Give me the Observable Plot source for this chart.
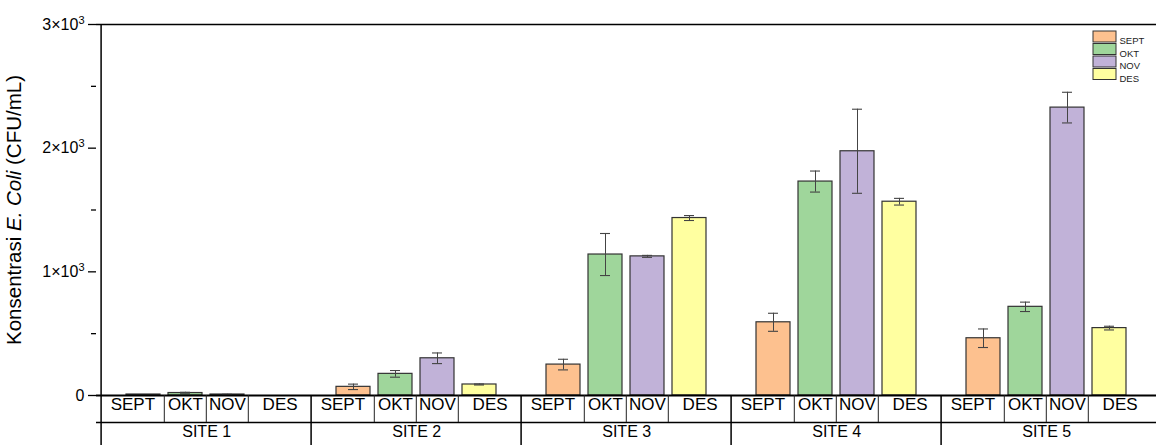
<!DOCTYPE html>
<html>
<head>
<meta charset="utf-8">
<script src="https://cdn.jsdelivr.net/npm/d3@7"></script>
<script src="https://cdn.jsdelivr.net/npm/@observablehq/plot@0.6"></script>
<style>
  html, body { margin: 0; padding: 0; background: #fff; }
  #chart svg { display: block; }
</style>
</head>
<body>
<div id="chart"></div>
<script>
// ---- data ----
const sites = ["SITE 1", "SITE 2", "SITE 3", "SITE 4", "SITE 5"];
const months = ["SEPT", "OKT", "NOV", "DES"];
const monthColors = ["#fdc18f", "#9fd69b", "#c1b2d8", "#ffffa0"];

const septValues = [8, 70, 250, 592, 463];
const septErrors = [0, 22, 43, 73, 75];
const oktValues = [20, 175, 1140, 1730, 717];
const oktErrors = [6, 27, 170, 85, 38];
const novValues = [8, 301, 1125, 1975, 2328];
const novErrors = [2, 43, 8, 340, 124];
const desValues = [0, 89, 1435, 1567, 545];
const desErrors = [0, 4, 20, 27, 15];

const yMajorTicks = [0, 1000, 2000, 3000];
const yMajorLabels = ["0", "1×10³", "2×10³", "3×10³"];
const yMinorTicks = [500, 1500, 2500];
const yLabel = "Konsentrasi E. Coli (CFU/mL)";

// ---- table for Plot ----
const valuesByMonth = [septValues, oktValues, novValues, desValues];
const errorsByMonth = [septErrors, oktErrors, novErrors, desErrors];
const rows = [];
sites.forEach((site, si) => {
  months.forEach((month, mi) => {
    rows.push({
      site, month,
      key: `${site}|${month}`,
      value: valuesByMonth[mi][si],
      err: errorsByMonth[mi][si]
    });
  });
});
// x domain: the four months of each site, with an empty slot between sites
const xDomain = [];
sites.forEach((site, si) => {
  months.forEach(m => xDomain.push(`${site}|${m}`));
  if (si < sites.length - 1) xDomain.push(`${site}|gap`);
});

// ---- layout ----
const W = 1156, H = 445;
const mL = 96, mR = 0, mT = 24, mB = 50;
const padInner = 0.19;
const padOuter = 0.5 + padInner / 2;
const step = (W - mL - mR) / (xDomain.length - padInner + 2 * padOuter);
const plotH = H - mT - mB;
const row1 = 27;   // height of month row
const font = "'Liberation Sans', Arial, sans-serif";

const errRows = rows.filter(d => d.err > 0);
const monthDx = {SEPT: -step / 4, OKT: 0, NOV: 0, DES: step / 4};

const legendMarks = [];
months.forEach((m, i) => {
  legendMarks.push(Plot.rect([m], {
    fill: d => d, stroke: "#333", strokeWidth: 1,
    insetLeft: 997, insetRight: 40,
    insetTop: 7 + 12.5 * i, insetBottom: plotH - (7 + 12.5 * i) - 11
  }));
  legendMarks.push(Plot.text([m], {
    text: d => d, frameAnchor: "top-left", textAnchor: "start",
    dx: 1023, dy: 13 + 12.5 * i, fontSize: 9.5, fill: "#222"
  }));
});

const chart = Plot.plot({
  width: W, height: H,
  marginLeft: mL, marginRight: mR, marginTop: mT, marginBottom: mB,
  style: {fontFamily: font, fontSize: "15px", color: "#000", background: "#fff"},
  x: {type: "band", domain: xDomain, paddingInner: padInner, paddingOuter: padOuter, axis: null},
  y: {domain: [0, 3000], label: null, axis: null},
  color: {domain: months, range: monthColors},
  marks: [
    // bars
    Plot.barY(rows, {x: "key", y: "value", fill: "month", stroke: "#333", strokeWidth: 1.2}),
    // error bars
    Plot.ruleX(errRows, {x: "key", y1: d => d.value - d.err, y2: d => d.value + d.err, stroke: "#444", strokeWidth: 1}),
    Plot.tickY(errRows, {x: "key", y: d => d.value + d.err, stroke: "#444", strokeWidth: 1.1, insetLeft: 12, insetRight: 12}),
    Plot.tickY(errRows, {x: "key", y: d => d.value - d.err, stroke: "#444", strokeWidth: 1.1, insetLeft: 12, insetRight: 12}),
    // frame lines
    Plot.ruleY([3000], {stroke: "#000", strokeWidth: 1.5}),
    Plot.ruleY([0], {stroke: "#000", strokeWidth: 2}),
    Plot.ruleY([0], {stroke: "#000", strokeWidth: 1.6, dy: row1}),
    Plot.ruleX([xDomain[0]], {x: d => d, dx: -step, insetBottom: -mB, stroke: "#000", strokeWidth: 1.5}),
    // table: site separators
    Plot.ruleX(sites.slice(1), {x: s => `${s}|SEPT`, dx: -step, insetTop: plotH, insetBottom: -mB, stroke: "#000", strokeWidth: 1.5}),
    // table: month separators
    Plot.ruleX(rows.filter(d => d.month !== "SEPT"), {x: "key", dx: -step / 2, insetTop: plotH, insetBottom: -row1, stroke: "#222", strokeWidth: 1}),
    // table: month labels
    ...months.map(m => Plot.text(rows.filter(d => d.month === m), {
      x: "key", text: "month", frameAnchor: "bottom", dy: 14, dx: monthDx[m], fontSize: 17
    })),
    // table: site labels
    Plot.text(sites, {x: s => `${s}|OKT`, text: s => s, dx: step / 2, frameAnchor: "bottom", dy: 41, fontSize: 16}),
    // y axis ticks
    Plot.axisY({ticks: yMajorTicks, tickSize: 8, strokeWidth: 1.3, tickFormat: () => "", label: null}),
    Plot.axisY({ticks: yMinorTicks, tickSize: 5, strokeWidth: 1.3, tickFormat: () => "", label: null}),
    // y tick labels
    Plot.text(yMajorTicks, {y: d => d, text: (d, i) => yMajorLabels[i], frameAnchor: "left",
      textAnchor: "end", dx: -12, dy: 0, fontSize: 16}),
    // y label
    Plot.text([yLabel], {text: d => d, frameAnchor: "left", textAnchor: "middle", dx: -82, rotate: -90, fontSize: 20.5}),
    // legend
    ...legendMarks
  ]
});

const root = d3.select(chart);
// italicise "E. Coli" in the y label
root.selectAll("text").filter(function () { return this.textContent === yLabel; })
  .each(function () {
    const t = d3.select(this);
    t.text(null);
    t.append("tspan").text("Konsentrasi ");
    t.append("tspan").attr("font-style", "italic").text("E. Coli");
    t.append("tspan").text(" (CFU/mL)");
  });
// render the exponent of the tick labels as a real superscript
root.selectAll("text").filter(function () { return /×10³$/.test(this.textContent); })
  .each(function () {
    const t = d3.select(this);
    const base = this.textContent.replace("³", "");
    t.text(null);
    t.append("tspan").text(base);
    t.append("tspan").attr("font-size", 11).attr("dy", "-0.55em").text("3");
  });

document.getElementById("chart").appendChild(chart);
</script>
</body>
</html>
